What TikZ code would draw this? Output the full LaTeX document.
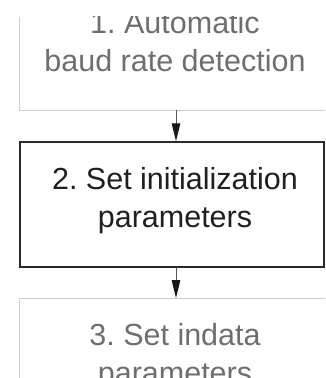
\documentclass[tikz,border=0pt]{standalone}
\usepackage{fontspec}
\setmainfont{Liberation Sans}
\usetikzlibrary{arrows.meta}
\definecolor{fadeline}{HTML}{CDCDCD}
\definecolor{fadetext}{HTML}{6E6E6E}
\definecolor{darkline}{HTML}{2A2A2A}
\definecolor{arrline}{HTML}{555555}
\tikzset{
  fadebox/.style={draw=none, inner sep=0pt},
  fadeedge/.style={draw=fadeline, line width=1.2pt},
  mainbox/.style={draw=darkline, line width=1.3pt, inner sep=0pt},
  lbl/.style={font=\frenchspacing\fontsize{30.5}{37.7}\selectfont, align=center, inner sep=0pt, anchor=north},
  arr/.style={draw=arrline, line width=1pt, -{Triangle[length=18pt,width=8.5pt,color=black!90]}}
}
\begin{document}
\begin{tikzpicture}[x=1pt,y=-1pt]
\useasboundingbox (0,0) rectangle (325,378);
\coordinate (ax) at (176,0);
\coordinate (topcut) at (0,16.7);
\clip (topcut) rectangle (325,378);
% boxes (boxes 1 and 3 run past the picture's edges)
\node[fadebox, minimum width=305pt, minimum height=125pt] (box1) at (172.5,47.5) {};
\node[mainbox, minimum width=304pt, minimum height=125pt] (box2) at (172,204.5) {};
\node[fadebox, minimum width=305pt, minimum height=125pt] (box3) at (172.5,360.8) {};
\draw[fadeedge] (box1.west |- topcut) -- (box1.south west) -- (box1.south east);
\draw[fadeedge] (box3.west |- 0,378) -- (box3.north west) -- (box3.north east);
% labels
\node[lbl, text=fadetext] (t1) at (175,11.2) {1. Automatic\\baud rate detection};
\node[lbl, text=black!88] (t2) at (175,167.2) {2. Set initialization\\parameters};
\node[lbl, text=fadetext] (t3) at (175,323.2) {3. Set indata\\parameters};
% connectors
\draw[arr] (box1.south -| ax) -- (box2.north -| ax);
\draw[arr] (box2.south -| ax) -- (box3.north -| ax);
\end{tikzpicture}
\end{document}
